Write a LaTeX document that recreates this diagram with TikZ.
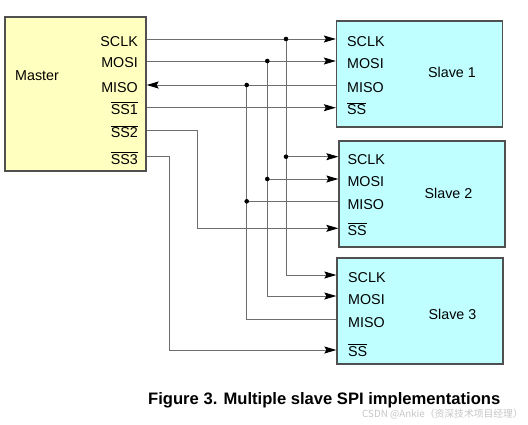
\documentclass[tikz,border=0pt]{standalone}
\usepackage{fontspec}
\setmainfont{Liberation Sans}
\newfontfamily\cjkfont{Noto Sans CJK SC}
\usetikzlibrary{arrows.meta}
\definecolor{masterfill}{HTML}{FFFFC0}
\definecolor{slavefill}{HTML}{C0FFFF}
\definecolor{boxline}{HTML}{505050}
\definecolor{wiregray}{HTML}{6E6E6E}
\newcommand{\ovl}[1]{$\overline{\mbox{#1}}$}
\tikzset{
  masterbox/.style={draw=boxline, fill=masterfill, line width=1.3pt, minimum width=141pt, minimum height=154pt, inner sep=0pt},
  slavebox/.style={draw=boxline, fill=slavefill, line width=1.3pt, minimum width=166pt, minimum height=106pt, inner sep=0pt},
  pin/.style={inner sep=0pt, font=\fontsize{14.3}{17}\selectfont},
  wire/.style={draw=wiregray, line width=1pt},
  sig/.style={wire, -{Stealth[length=12pt, width=7pt, inset=2pt, black]}},
  junction/.style={fill=black}
}
\begin{document}
\begin{tikzpicture}[x=1pt,y=-1pt]
  \useasboundingbox (0,0) rectangle (528,424);

  % master
  \node[masterbox] (master) at (75.5,94) {};
  \node[pin, anchor=west] (m-name) at (15,76) {Master};
  \node[pin, anchor=base east] (m-sclk-t) at (138,46) {SCLK};
  \node[pin, anchor=base east] (m-mosi-t) at (138,67.7) {MOSI};
  \node[pin, anchor=base east] (m-miso-t) at (138,92.3) {MISO};
  \node[pin, anchor=base east] (m-ss1-t) at (138,114) {\ovl{SS1}};
  \node[pin, anchor=base east] (m-ss2-t) at (138,137.7) {\ovl{SS2}};
  \node[pin, anchor=base east] (m-ss3-t) at (138,164) {\ovl{SS3}};

  % slave 1
  \node[slavebox] (slave1) at (419.5,74) {};
  \node[pin] (s1-name) at (452,72.7) {Slave 1};
  \node[pin, anchor=base west] (s1-sclk-t) at (347,46) {SCLK};
  \node[pin, anchor=base west] (s1-mosi-t) at (347,68.3) {MOSI};
  \node[pin, anchor=base west] (s1-miso-t) at (347,92.7) {MISO};
  \node[pin, anchor=base west] (s1-ss-t) at (347,114.3) {\ovl{SS}};

  % slave 2
  \node[slavebox] (slave2) at (422,194) {};
  \node[pin] (s2-name) at (448.5,193) {Slave 2};
  \node[pin, anchor=base west] (s2-sclk-t) at (347.3,164.3) {SCLK};
  \node[pin, anchor=base west] (s2-mosi-t) at (347.3,186.3) {MOSI};
  \node[pin, anchor=base west] (s2-miso-t) at (347.3,209.3) {MISO};
  \node[pin, anchor=base west] (s2-ss-t) at (347.3,235) {\ovl{SS}};

  % slave 3
  \node[slavebox] (slave3) at (420,311) {};
  \node[pin] (s3-name) at (452.5,314) {Slave 3};
  \node[pin, anchor=base west] (s3-sclk-t) at (348,282.7) {SCLK};
  \node[pin, anchor=base west] (s3-mosi-t) at (348,304) {MOSI};
  \node[pin, anchor=base west] (s3-miso-t) at (348,327.3) {MISO};
  \node[pin, anchor=base west] (s3-ss-t) at (348,356) {\ovl{SS}};

  % pin points
  \coordinate (m-sclk) at (master.east |- 0,39);
  \coordinate (m-mosi) at (master.east |- 0,61);
  \coordinate (m-miso) at (master.east |- 0,85);
  \coordinate (m-ss1) at (master.east |- 0,107.7);
  \coordinate (m-ss2) at (master.east |- 0,130.7);
  \coordinate (m-ss3) at (master.east |- 0,156.7);
  \coordinate (s1-sclk) at (slave1.west |- 0,39);
  \coordinate (s1-mosi) at (slave1.west |- 0,61);
  \coordinate (s1-miso) at (slave1.west |- 0,85);
  \coordinate (s1-ss) at (slave1.west |- 0,107.7);
  \coordinate (s2-sclk) at (slave2.west |- 0,156.7);
  \coordinate (s2-mosi) at (slave2.west |- 0,179);
  \coordinate (s2-miso) at (slave2.west |- 0,201.3);
  \coordinate (s2-ss) at (slave2.west |- 0,228.3);
  \coordinate (s3-sclk) at (slave3.west |- 0,275);
  \coordinate (s3-mosi) at (slave3.west |- 0,296);
  \coordinate (s3-miso) at (slave3.west |- 0,319.3);
  \coordinate (s3-ss) at (slave3.west |- 0,350);

  % bus taps
  \coordinate (j-sclk) at (286,39);
  \coordinate (j-mosi) at (267.3,61);
  \coordinate (j-miso) at (246.7,85);
  \coordinate (bend-ss2) at (197.7,130.7);
  \coordinate (bend-ss3) at (169.3,156.7);

  % wires to slave 1
  \draw[sig] (m-sclk) -- (s1-sclk);
  \draw[sig] (m-mosi) -- (s1-mosi);
  \draw[sig] (s1-miso) -- (m-miso);
  \draw[sig] (m-ss1) -- (s1-ss);

  % shared lines down to slaves 2 and 3
  \draw[sig] (j-sclk) |- (s3-sclk);
  \draw[sig] (j-sclk |- s2-sclk) -- (s2-sclk);
  \draw[sig] (j-mosi) |- (s3-mosi);
  \draw[sig] (j-mosi |- s2-mosi) -- (s2-mosi);
  \draw[wire] (j-miso) |- (s3-miso);
  \draw[wire] (j-miso |- s2-miso) -- (s2-miso);

  % select lines
  \draw[sig] (m-ss2) -- (bend-ss2) |- (s2-ss);
  \draw[sig] (m-ss3) -- (bend-ss3) |- (s3-ss);

  \fill[junction] (j-sclk) circle (2.3pt) (j-mosi) circle (2.3pt) (j-miso) circle (2.3pt);
  \fill[junction] (j-sclk |- s2-sclk) circle (2.3pt) (j-mosi |- s2-mosi) circle (2.3pt) (j-miso |- s2-miso) circle (2.3pt);

  \node[anchor=base west, inner sep=0pt, font=\bfseries\fontsize{16.6}{20}\selectfont] (caption) at (148,404.3) {Figure 3. Multiple slave SPI implementations};
  \node[anchor=base east, inner sep=0pt, text=gray!45, font=\cjkfont\fontsize{9.8}{12}\selectfont] (mark) at (523,417) {CSDN @Ankie（资深技术项目经理）};
\end{tikzpicture}
\end{document}
